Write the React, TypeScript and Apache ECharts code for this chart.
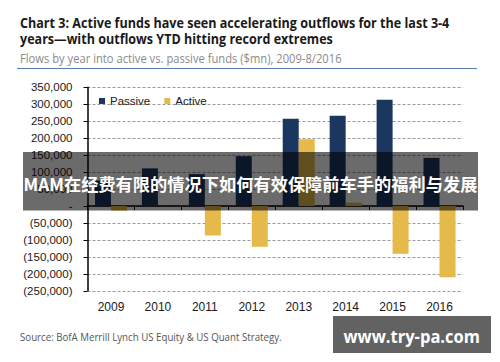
import React, { useEffect, useRef } from 'react';
import * as echarts from 'echarts';

const years = ['2009', '2010', '2011', '2012', '2013', '2014', '2015', '2016'];
const passive = [75000, 111000, 94000, 147000, 257000, 266000, 313000, 142000];
const active = [-14000, 0, -87000, -120000, 197000, 10000, -141000, -210000];
const seriesNames = ['Passive', 'Active'];
const yTickValues = [350000, 300000, 250000, 200000, 150000, 100000, 50000, 0, -50000, -100000, -150000, -200000, -250000];
const yTickLabels = ['350,000', '300,000', '250,000', '200,000', '150,000', '100,000', '50,000', '-', '(50,000)', '(100,000)', '(150,000)', '(200,000)', '(250,000)'];
const titleLines = [
  'Chart 3: Active funds have seen accelerating outflows for the last 3-4',
  'years\u2014with outflows YTD hitting record extremes',
];
const subtitle = 'Flows by year into active vs. passive funds ($mn), 2009-8/2016';
const sourceText = 'Source: BofA Merrill Lynch US Equity & US Quant Strategy.';
const overlayText = 'MAM在经费有限的情况下如何有效保障前车手的福利与发展';
const watermarkText = 'www.try-pa.com';

const PASSIVE_COLOR = '#1b365f';
const ACTIVE_COLOR = '#e6b94b';

function makeFit() {
  const canvas = document.createElement('canvas');
  const ctx = canvas.getContext('2d');
  return (text: string, font: string, target: number) => {
    if (!ctx) return 1;
    ctx.font = font;
    const w = ctx.measureText(text).width;
    return w > 0 ? target / w : 1;
  };
}

export default function App() {
  const ref = useRef<HTMLDivElement>(null);
  useEffect(() => {
    if (!ref.current) return;
    const chart = echarts.init(ref.current, null, { renderer: 'svg' });
    const fit = makeFit();
    const titleFont = "bold 15px 'Open Sans'";
    const subFont = "12px 'Open Sans'";
    const srcFont = "11.5px 'Open Sans'";
    const ovFont = "bold 17px 'Noto Sans CJK SC'";
    const wmFont = "bold 17px 'Open Sans'";

    const txt = (text: string, x: number, y: number, font: string, size: number, weight: string, family: string, color: string, target: number, z = 10) => ({
      type: 'text',
      x,
      y,
      z,
      scaleX: fit(text, font, target),
      style: {
        text,
        x: 0,
        y: 0,
        fill: color,
        fontSize: size,
        fontWeight: weight,
        fontFamily: family,
        verticalAlign: 'middle',
        align: 'left',
      },
    });

    const labelMap: Record<string, string> = {};
    yTickValues.forEach((v, i) => (labelMap[String(v)] = yTickLabels[i]));

    chart.setOption({
      animation: false,
      backgroundColor: '#ffffff',
      grid: { left: 87.5, right: 37, top: 87.3, bottom: 71.2, outerBoundsMode: 'none' },
      legend: {
        data: seriesNames,
        left: 94,
        top: 90,
        icon: 'rect',
        itemWidth: 6,
        itemHeight: 6,
        itemGap: 14,
        textStyle: { fontSize: 11.5, color: '#1a1a1a', fontFamily: "'Liberation Sans', Arial, sans-serif" },
      },
      xAxis: [
        {
          type: 'category',
          data: years,
          position: 'bottom',
          axisLine: { show: false, onZero: false },
          axisTick: { show: false },
          axisLabel: { margin: 10, fontSize: 12, color: '#1a1a1a', fontFamily: "'Liberation Sans', Arial, sans-serif" },
          splitLine: { show: false },
        },
        {
          type: 'category',
          data: years,
          position: 'bottom',
          axisLine: { show: true, onZero: true, lineStyle: { color: '#000', width: 1.5 } },
          axisTick: { show: true, inside: false, length: 4, lineStyle: { color: '#000', width: 1 } },
          axisLabel: { show: false },
          splitLine: { show: false },
        },
      ],
      yAxis: {
        type: 'value',
        min: -250000,
        max: 350000,
        interval: 50000,
        axisLine: { show: true, lineStyle: { color: '#000', width: 1.5 } },
        axisTick: { show: true, inside: false, length: 4, lineStyle: { color: '#000' } },
        axisLabel: {
          margin: 15,
          fontSize: 11.5,
          color: '#1a1a1a',
          fontFamily: "'Liberation Sans', Arial, sans-serif",
          formatter: (v: number) => labelMap[String(v)] ?? String(v),
        },
        splitLine: { show: true, lineStyle: { color: '#9a9a9a', type: [3, 2], width: 1 } },
      },
      series: [
        {
          name: seriesNames[0],
          type: 'bar',
          xAxisIndex: 0,
          data: passive,
          barWidth: 16,
          barGap: '0%',
          itemStyle: { color: PASSIVE_COLOR },
        },
        {
          name: seriesNames[1],
          type: 'bar',
          xAxisIndex: 0,
          data: active,
          barWidth: 16,
          barGap: '0%',
          itemStyle: { color: ACTIVE_COLOR },
        },
      ],
      graphic: [
        txt(titleLines[0], 20, 22.5, titleFont, 15, 'bold', "'Open Sans'", '#1a1a1a', 430),
        txt(titleLines[1], 20, 38.5, titleFont, 15, 'bold', "'Open Sans'", '#1a1a1a', 313),
        txt(subtitle, 20, 58.5, subFont, 12, 'normal', "'Open Sans'", '#8a8a8a', 322),
        {
          type: 'line',
          z: 10,
          shape: { x1: 17, y1: 68.5, x2: 477, y2: 68.5 },
          style: { stroke: '#5a7bae', lineWidth: 1.2 },
        },
        txt(sourceText, 20, 336.5, srcFont, 11.5, 'normal', "'Open Sans'", '#555555', 262),
        {
          type: 'rect',
          z: 100,
          shape: { x: 23, y: 152, width: 455, height: 58.5 },
          style: { fill: 'rgba(0,0,0,0.58)' },
        },
        txt(overlayText, 23.5, 183.5, ovFont, 17, 'bold', "'Noto Sans CJK SC'", '#ffffff', 454, 101),
        {
          type: 'rect',
          z: 100,
          shape: { x: 333, y: 316, width: 158, height: 37 },
          style: { fill: '#626262' },
        },
        txt(watermarkText, 343.5, 336, wmFont, 17, 'bold', "'Open Sans'", '#ffffff', 136.5, 101),
      ],
    });
    return () => chart.dispose();
  }, []);
  return <div ref={ref} style={{ position: 'fixed', left: 0, top: 0, width: 500, height: 362 }} />;
}
